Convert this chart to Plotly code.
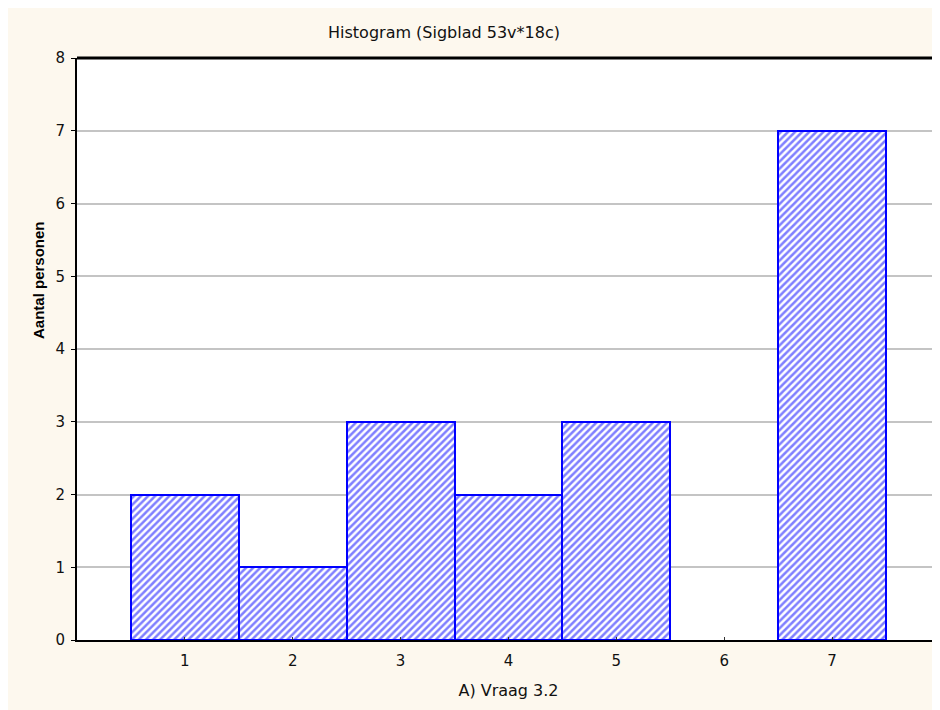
import plotly.graph_objects as go

categories = [1, 2, 3, 4, 5, 6, 7]
counts = [2, 1, 3, 2, 3, 0, 7]
x_ticks = [1, 2, 3, 4, 5, 6, 7]
y_ticks = [0, 1, 2, 3, 4, 5, 6, 7, 8]

title_text = "Histogram (Sigblad 53v*18c)"
x_title = "A) Vraag 3.2"
y_title = "Aantal personen"

font = "DejaVu Sans, Liberation Sans, sans-serif"

W, H = 932, 702

fig = go.Figure()
fig.add_trace(go.Bar(
    x=categories,
    y=counts,
    width=1.0,
    marker=dict(
        color="white",
        line=dict(color="#0000FF", width=[2 if c > 0 else 0 for c in counts]),
        pattern=dict(shape="/", fgcolor="#0000FF", bgcolor="white", size=5, solidity=0.5),
    ),
    showlegend=False,
))

fig.update_layout(
    width=W,
    height=H,
    margin=dict(l=69, r=0, t=50, b=70),
    paper_bgcolor="#FDF8EE",
    plot_bgcolor="white",
    bargap=0,
    font=dict(family=font, size=15, color="#111"),
    title=dict(text=title_text, x=436 / W, xanchor="center", y=1 - 24 / H, yanchor="middle",
               font=dict(family=font, size=16, color="#111")),
    xaxis=dict(
        range=[0, 8],
        tickmode="array",
        tickvals=x_ticks,
        ticktext=[str(v) for v in x_ticks],
        showgrid=False,
        zeroline=False,
        showline=True,
        linecolor="#000",
        linewidth=2,
        ticks="inside",
        ticklen=3,
        tickcolor="#333",
        tickfont=dict(size=15),
        ticklabelstandoff=6,
        title=dict(text=x_title, font=dict(size=16), standoff=16),
    ),
    yaxis=dict(
        range=[0, 8],
        tickmode="array",
        tickvals=y_ticks,
        showgrid=True,
        gridcolor="#C4C4C4",
        gridwidth=2,
        zeroline=False,
        showline=True,
        linecolor="#000",
        linewidth=2,
        ticks="outside",
        ticklen=4,
        tickcolor="#000",
        tickfont=dict(size=15),
        ticklabelstandoff=3,
    ),
)

fig.add_annotation(
    text="<b>" + y_title + "</b>", textangle=-90,
    xref="paper", yref="paper", x=-39 / (W - 69), y=(632 - 272) / 582,
    xanchor="center", yanchor="middle", showarrow=False,
    font=dict(family="Liberation Sans Narrow, Liberation Sans, sans-serif", size=15, color="#000"),
)

fig.add_shape(type="line", xref="paper", yref="paper", x0=0, x1=1, y0=1, y1=1,
              line=dict(color="#000", width=3))

fig.write_html("out.html")
